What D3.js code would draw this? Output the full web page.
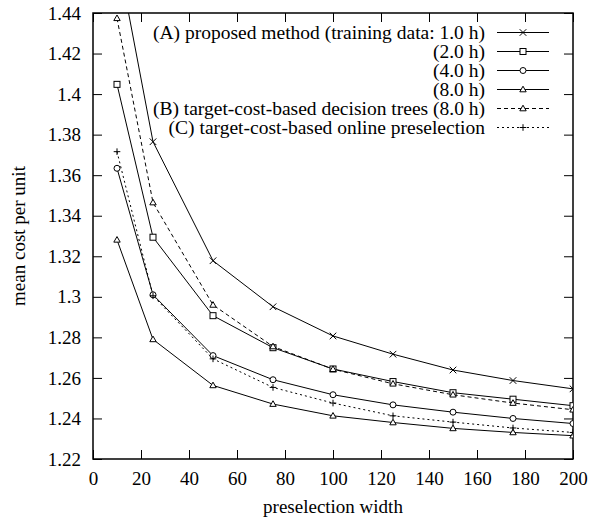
<!DOCTYPE html>
<html>
<head>
<meta charset="utf-8">
<script src="https://cdn.jsdelivr.net/npm/d3@7"></script>
<style>
  body { margin: 0; background: #fff; }
  text { font-family: "Liberation Serif", "Times New Roman", serif; fill: #000; }
</style>
</head>
<body>
<div id="chart"></div>
<script>
// preselection widths (x) and mean cost per unit for each run
var widths = [10, 25, 50, 75, 100, 125, 150, 175, 200];
var proposed1h = [1.470, 1.3765, 1.3178, 1.2951, 1.2807, 1.2717, 1.2639, 1.2587, 1.2546];
var proposed2h = [1.4048, 1.3294, 1.2907, 1.2749, 1.2644, 1.2582, 1.2527, 1.2495, 1.2463];
var proposed4h = [1.3634, 1.3010, 1.2710, 1.2591, 1.2517, 1.2467, 1.2431, 1.2400, 1.2375];
var proposed8h = [1.3281, 1.2790, 1.2563, 1.2471, 1.2413, 1.2380, 1.2351, 1.2331, 1.2315];
var trees8h = [1.4374, 1.3465, 1.2960, 1.2755, 1.2643, 1.2571, 1.2517, 1.2476, 1.2443];
var online = [1.3716, 1.3005, 1.2694, 1.2553, 1.2476, 1.2413, 1.2382, 1.2353, 1.2331];

var seriesLabels = [
    "(A) proposed method (training data: 1.0 h)",
    "(2.0 h)",
    "(4.0 h)",
    "(8.0 h)",
    "(B) target-cost-based decision trees (8.0 h)",
    "(C) target-cost-based online preselection"
];
var xTicks = [0, 20, 40, 60, 80, 100, 120, 140, 160, 180, 200];
var yTicks = [1.22, 1.24, 1.26, 1.28, 1.3, 1.32, 1.34, 1.36, 1.38, 1.4, 1.42, 1.44];

var series = [
    { name: seriesLabels[0], values: proposed1h, marker: "cross", dash: null },
    { name: seriesLabels[1], values: proposed2h, marker: "square", dash: null },
    { name: seriesLabels[2], values: proposed4h, marker: "circle", dash: null },
    { name: seriesLabels[3], values: proposed8h, marker: "triangle", dash: null },
    { name: seriesLabels[4], values: trees8h, marker: "triangle", dash: "4,3" },
    { name: seriesLabels[5], values: online, marker: "plus", dash: "2,3" }
];

var width = 598, height = 520,
    margin = { left: 93, right: 25, top: 13, bottom: 61 };
var w = width - margin.left - margin.right,
    h = height - margin.top - margin.bottom;

function translate(x, y){ return "translate(" + x + "," + y + ")"; }

var xScale = d3.scaleLinear().domain([0, 200]).range([0, w]);
var yScale = d3.scaleLinear().domain([1.22, 1.44]).range([h, 0]);

var svg = d3.select("#chart").append("svg")
    .attr("width", width)
    .attr("height", height);

var g = svg.append("g").attr("transform", translate(margin.left, margin.top));

g.append("clipPath").attr("id", "plot-clip")
    .append("rect").attr("width", w).attr("height", h);

var tick = 9;
var fmt = d3.format("~g");

// axes, ticks pointing inward on all four sides
var axisB = g.append("g").attr("transform", translate(0, h))
    .call(d3.axisBottom(xScale).tickValues(xTicks).tickSize(-tick).tickPadding(13).tickFormat(fmt));
var axisT = g.append("g")
    .call(d3.axisTop(xScale).tickValues(xTicks).tickSize(-tick).tickFormat(""));
var axisL = g.append("g")
    .call(d3.axisLeft(yScale).tickValues(yTicks).tickSize(-tick).tickPadding(12).tickFormat(fmt));
var axisR = g.append("g").attr("transform", translate(w, 0))
    .call(d3.axisRight(yScale).tickValues(yTicks).tickSize(-tick).tickFormat(""));

[axisB, axisT, axisL, axisR].forEach(function(a){
    a.select(".domain").remove();
    a.selectAll("line").attr("stroke", "#000").attr("stroke-width", 1);
    a.selectAll("text").style("font-size", "19px").attr("fill", "#000")
        .style("font-family", "'Liberation Serif', serif");
});

g.append("rect")
    .attr("width", w).attr("height", h)
    .attr("fill", "none").attr("stroke", "#000").attr("stroke-width", 1.5);

// axis titles
svg.append("text")
    .attr("x", margin.left + w / 2).attr("y", 513)
    .attr("text-anchor", "middle").style("font-size", "19px")
    .text("preselection width");
svg.append("text")
    .attr("transform", translate(25, margin.top + h / 2) + " rotate(-90)")
    .attr("text-anchor", "middle").style("font-size", "19px")
    .text("mean cost per unit");

function drawMarker(sel, type){
    var s = 3.3;
    if(type == "cross"){
        sel.append("path").attr("d", "M" + (-s) + "," + (-s) + "L" + s + "," + s + "M" + (-s) + "," + s + "L" + s + "," + (-s));
    } else if(type == "plus"){
        sel.append("path").attr("d", "M" + (-s) + ",0L" + s + ",0M0," + (-s) + "L0," + s);
    } else if(type == "square"){
        sel.append("rect").attr("x", -3).attr("y", -3).attr("width", 6).attr("height", 6).attr("fill", "#fff");
    } else if(type == "circle"){
        sel.append("circle").attr("r", 3).attr("fill", "#fff");
    } else if(type == "triangle"){
        sel.append("path").attr("d", "M0,-3.3L3.2,2.3L-3.2,2.3Z").attr("fill", "#fff");
    }
    sel.selectAll("*").attr("stroke", "#000").attr("stroke-width", 1);
}

var line = d3.line()
    .x(function(d){ return xScale(d[0]); })
    .y(function(d){ return yScale(d[1]); });

var plot = g.append("g").attr("clip-path", "url(#plot-clip)");

series.forEach(function(s){
    var pts = widths.map(function(x, i){ return [x, s.values[i]]; });
    plot.append("path")
        .datum(pts)
        .attr("d", line)
        .attr("fill", "none")
        .attr("stroke", "#000")
        .attr("stroke-width", 1)
        .attr("stroke-dasharray", s.dash);
});

series.forEach(function(s){
    var pts = widths.map(function(x, i){ return [x, s.values[i]]; })
        .filter(function(d){ return d[1] <= 1.44; });
    plot.selectAll(null)
        .data(pts)
        .enter()
        .append("g")
        .attr("transform", function(d){ return translate(xScale(d[0]), yScale(d[1])); })
        .each(function(){ drawMarker(d3.select(this), s.marker); });
});

// legend
var legend = svg.append("g");
var rowY = 32.5, rowStep = 19;
series.forEach(function(s, i){
    var y = rowY + i * rowStep;
    var row = legend.append("g").attr("transform", translate(0, y));
    row.append("text")
        .attr("x", 485).attr("dy", "0.32em")
        .attr("text-anchor", "end").style("font-size", "19.5px")
        .text(s.name);
    row.append("line")
        .attr("x1", 497).attr("x2", 549)
        .attr("stroke", "#000").attr("stroke-width", 1)
        .attr("stroke-dasharray", s.dash);
    var m = row.append("g").attr("transform", translate(523, 0));
    drawMarker(m, s.marker);
});
</script>
</body>
</html>
